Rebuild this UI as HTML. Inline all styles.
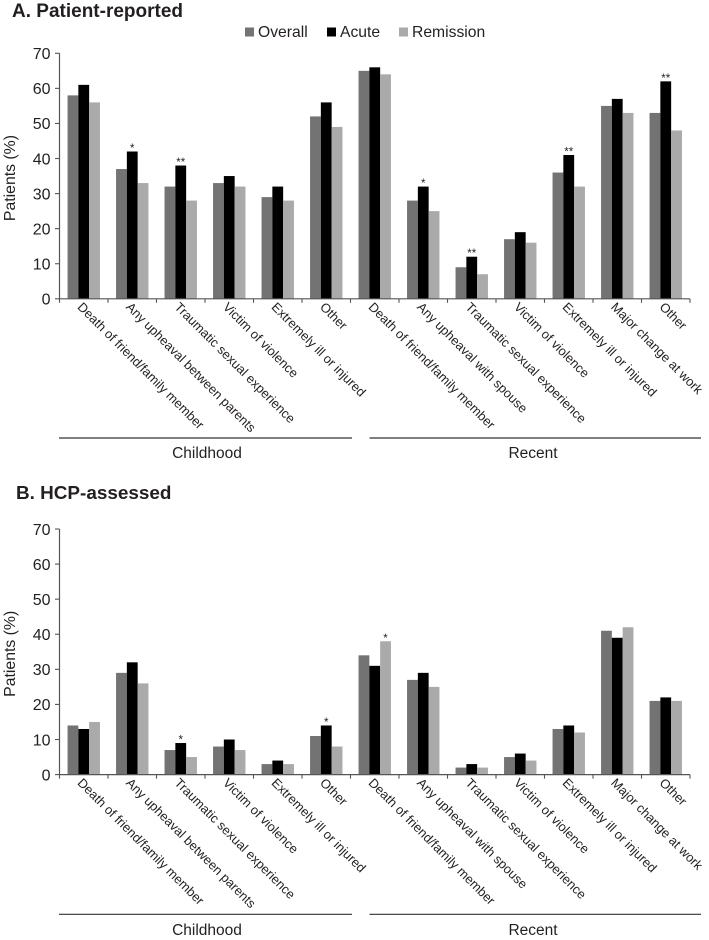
<!DOCTYPE html>
<html lang="en">
<head>
<meta charset="utf-8">
<title>Patient-reported and HCP-assessed life events</title>
<style>
html,body{margin:0;padding:0;background:#fff;width:709px;height:940px;overflow:hidden}
svg{display:block;font-family:"Liberation Sans",Arial,sans-serif;fill:#231f20;filter:blur(0.25px)}
</style>
</head>
<body>
<svg id="chart" width="709" height="940" viewBox="0 0 709 940" xmlns="http://www.w3.org/2000/svg">
  <rect width="709" height="940" fill="#fff"/>
  <text x="12" y="17" font-size="19" font-weight="bold">A. Patient-reported</text>
  <text x="16" y="499" font-size="18.9" font-weight="bold">B. HCP-assessed</text>
  <g>
    <g>
      <rect x="245" y="27.5" width="9" height="9" fill="#737373"/>
      <text x="258" y="37" font-size="15.7">Overall</text>
    </g>
    <g>
      <rect x="327" y="27.5" width="9" height="9" fill="#000"/>
      <text x="340" y="37" font-size="15.7">Acute</text>
    </g>
    <g>
      <rect x="399" y="27.5" width="9" height="9" fill="#aaa"/>
      <text x="412" y="37" font-size="15.7">Remission</text>
    </g>
  </g>
</svg>
<script>
var categories = ["Death of friend/family member","Any upheaval between parents","Traumatic sexual experience","Victim of violence","Extremely ill or injured","Other","Death of friend/family member","Any upheaval with spouse","Traumatic sexual experience","Victim of violence","Extremely ill or injured","Major change at work","Other"];
var yTicks = [0,10,20,30,40,50,60,70];
var seriesNames = ["overall","acute","remission"];

var overallA = [58,37,32,33,29,52,65,28,9,17,36,55,53];
var acuteA = [61,42,38,35,32,56,66,32,12,19,41,57,62];
var remissionA = [56,33,28,32,28,49,64,25,7,16,32,53,48];
var overallB = [14,29,7,8,3,11,34,27,2,5,13,41,21];
var acuteB = [13,32,9,10,4,14,31,29,3,6,14,39,22];
var remissionB = [15,26,5,7,3,8,38,25,2,4,12,42,21];

var markersOverallA = ["","","","","","","","","","","","",""];
var markersAcuteA = ["","*","**","","","","","*","**","","**","","**"];
var markersRemissionA = ["","","","","","","","","","","","",""];
var markersOverallB = ["","","","","","","","","","","","",""];
var markersAcuteB = ["","","*","","","*","","","","","","",""];
var markersRemissionB = ["","","","","","","*","","","","","",""];

var NS = "http://www.w3.org/2000/svg";
var root = document.getElementById("chart");
var colors = {overall:"#737373",acute:"#000000",remission:"#aaaaaa"};

function mk(tag, parent, props) {
  var el = document.createElementNS(NS, tag);
  for (var k in props) el.setAttribute(k, props[k]);
  parent.appendChild(el);
  return el;
}

function drawPanel(prefix, y0, y70, values, markers, lineY, groupTextY) {
  var left = 59.5, right = 690;
  var band = (right - left) / categories.length;
  var barW = 10.8;
  function xBand(i) { return left + band * i; }
  function yScale(v) { return y0 + (y70 - y0) * v / 70; }

  var g = mk("g", root, {});
  
  

  for (var s = 0; s < values.length; s++) {
    for (var i = 0; i < categories.length; i++) {
      var v = values[s][i];
      var bx = xBand(i) + band / 2 - barW * 1.5 + barW * s;
      var bar = mk("rect", g, {x:bx, y:yScale(v), width:barW, height:y0 - yScale(v), fill:colors[seriesNames[s]]});
      
      
      if (markers[s][i]) {
        var star = mk("text", g, {x:bx + barW / 2, y:yScale(v) + 0.5, "font-size":11.5, "text-anchor":"middle"});
        star.textContent = markers[s][i];
        
        
      }
    }
  }

  var yAxis = mk("line", g, {x1:left, x2:left, y1:y70, y2:y0, stroke:"#555", "stroke-width":1.2});
  
  

  var xAxis = mk("line", g, {x1:left, x2:right, y1:y0, y2:y0, stroke:"#555", "stroke-width":1.2});
  
  

  yTicks.forEach(function (t) {
    var tick = mk("line", g, {x1:left - 4.5, x2:left, y1:yScale(t), y2:yScale(t), stroke:"#555", "stroke-width":1.1});
    
    
    var lab = mk("text", g, {x:50.5, y:yScale(t) + 5.8, "font-size":16, "text-anchor":"end"});
    lab.textContent = t;
    
    
  });

  for (var j = 0; j <= categories.length; j++) {
    var xt = mk("line", g, {x1:xBand(j), x2:xBand(j), y1:y0, y2:y0 + 4, stroke:"#555", "stroke-width":1.1});
    
    
  }

  categories.forEach(function (c, i) {
    var ax = xBand(i) + band / 2 - 7;
    var ay = y0 + 9;
    var lab = mk("text", g, {x:ax, y:ay, "font-size":12.9, transform:"rotate(45 " + ax + " " + ay + ")"});
    lab.textContent = c;
    
    
  });

  var title = mk("text", g, {x:15, y:(y0 + y70) / 2 + 2, "font-size":15.8, "text-anchor":"middle", transform:"rotate(-90 15 " + ((y0 + y70) / 2 + 2) + ")"});
  title.textContent = "Patients (%)";
  
  

  var line1 = mk("line", g, {x1:59, x2:352, y1:lineY, y2:lineY, stroke:"#333", "stroke-width":1.2});
  
  

  var line2 = mk("line", g, {x1:369.5, x2:701, y1:lineY, y2:lineY, stroke:"#333", "stroke-width":1.2});
  
  

  var t1 = mk("text", g, {x:207, y:groupTextY, "font-size":15.5, "text-anchor":"middle"});
  t1.textContent = "Childhood";
  
  

  var t2 = mk("text", g, {x:533, y:groupTextY, "font-size":15.5, "text-anchor":"middle"});
  t2.textContent = "Recent";
  
  
}

drawPanel("patient-reported", 298.8, 53.3, [overallA, acuteA, remissionA], [markersOverallA, markersAcuteA, markersRemissionA], 438, 458);
drawPanel("hcp-assessed", 774.6, 529, [overallB, acuteB, remissionB], [markersOverallB, markersAcuteB, markersRemissionB], 914.3, 935);
</script>
</body>
</html>
